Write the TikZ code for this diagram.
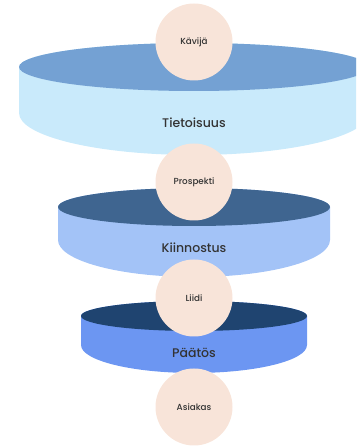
\documentclass[tikz,border=0pt]{standalone}
\usepackage{fontspec}
\setmainfont{Poppins}[UprightFont={* Medium}]
\definecolor{topA}{HTML}{74A1D3}
\definecolor{sideA}{HTML}{C9EAFB}
\definecolor{topB}{HTML}{3F6590}
\definecolor{sideB}{HTML}{A3C3F7}
\definecolor{topC}{HTML}{1F4470}
\definecolor{sideC}{HTML}{6C96F2}
\definecolor{peach}{HTML}{F8E4D9}
\definecolor{txt}{HTML}{333333}
\tikzset{
  stage/.style={circle, fill=peach, minimum size=77pt, inner sep=0pt, text=txt, font=\fontsize{8.8}{10}\selectfont},
  level/.style={text=txt, font=\fontsize{12.5}{14}\selectfont}
}
\newcommand{\disk}[7]{% cx, rx, ytop, ryt, ybot, ryb, side colour
  \fill[#7] (#1-#2,#3) -- (#1-#2,#5) arc[start angle=180, end angle=360, x radius=#2pt, y radius=#6pt] -- (#1+#2,#3) arc[start angle=0, end angle=180, x radius=#2pt, y radius=#4pt] -- cycle;
}
\begin{document}
\begin{tikzpicture}[x=1pt,y=1pt]
\useasboundingbox (0,0) rectangle (356,447);
\clip (0,0) rectangle (356,447);
% disk 1
\disk{194}{175}{380}{24}{334}{42}{sideA}
\fill[topA] (194,380) ellipse [x radius=175pt, y radius=24pt];
\node[level] (tie) at (194,324) {Tietoisuus};
% disk 2
\disk{194}{136}{240}{19}{207}{37}{sideB}
\fill[topB] (194,240) ellipse [x radius=136pt, y radius=19pt];
\node[level] (kii) at (194,199) {Kiinnostus};
% disk 3
\disk{194}{113}{131}{15}{102}{28}{sideC}
\fill[topC] (194,131) ellipse [x radius=113pt, y radius=15pt];
\node[level] (paa) at (194,94) {Päätös};
% circles
\node[stage] (kav) at (194,405) {Kävijä};
\node[stage] (pro) at (194,265) {Prospekti};
\node[stage] (lii) at (194,149) {Liidi};
\node[stage] (asi) at (194,40) {Asiakas};
\end{tikzpicture}
\end{document}
